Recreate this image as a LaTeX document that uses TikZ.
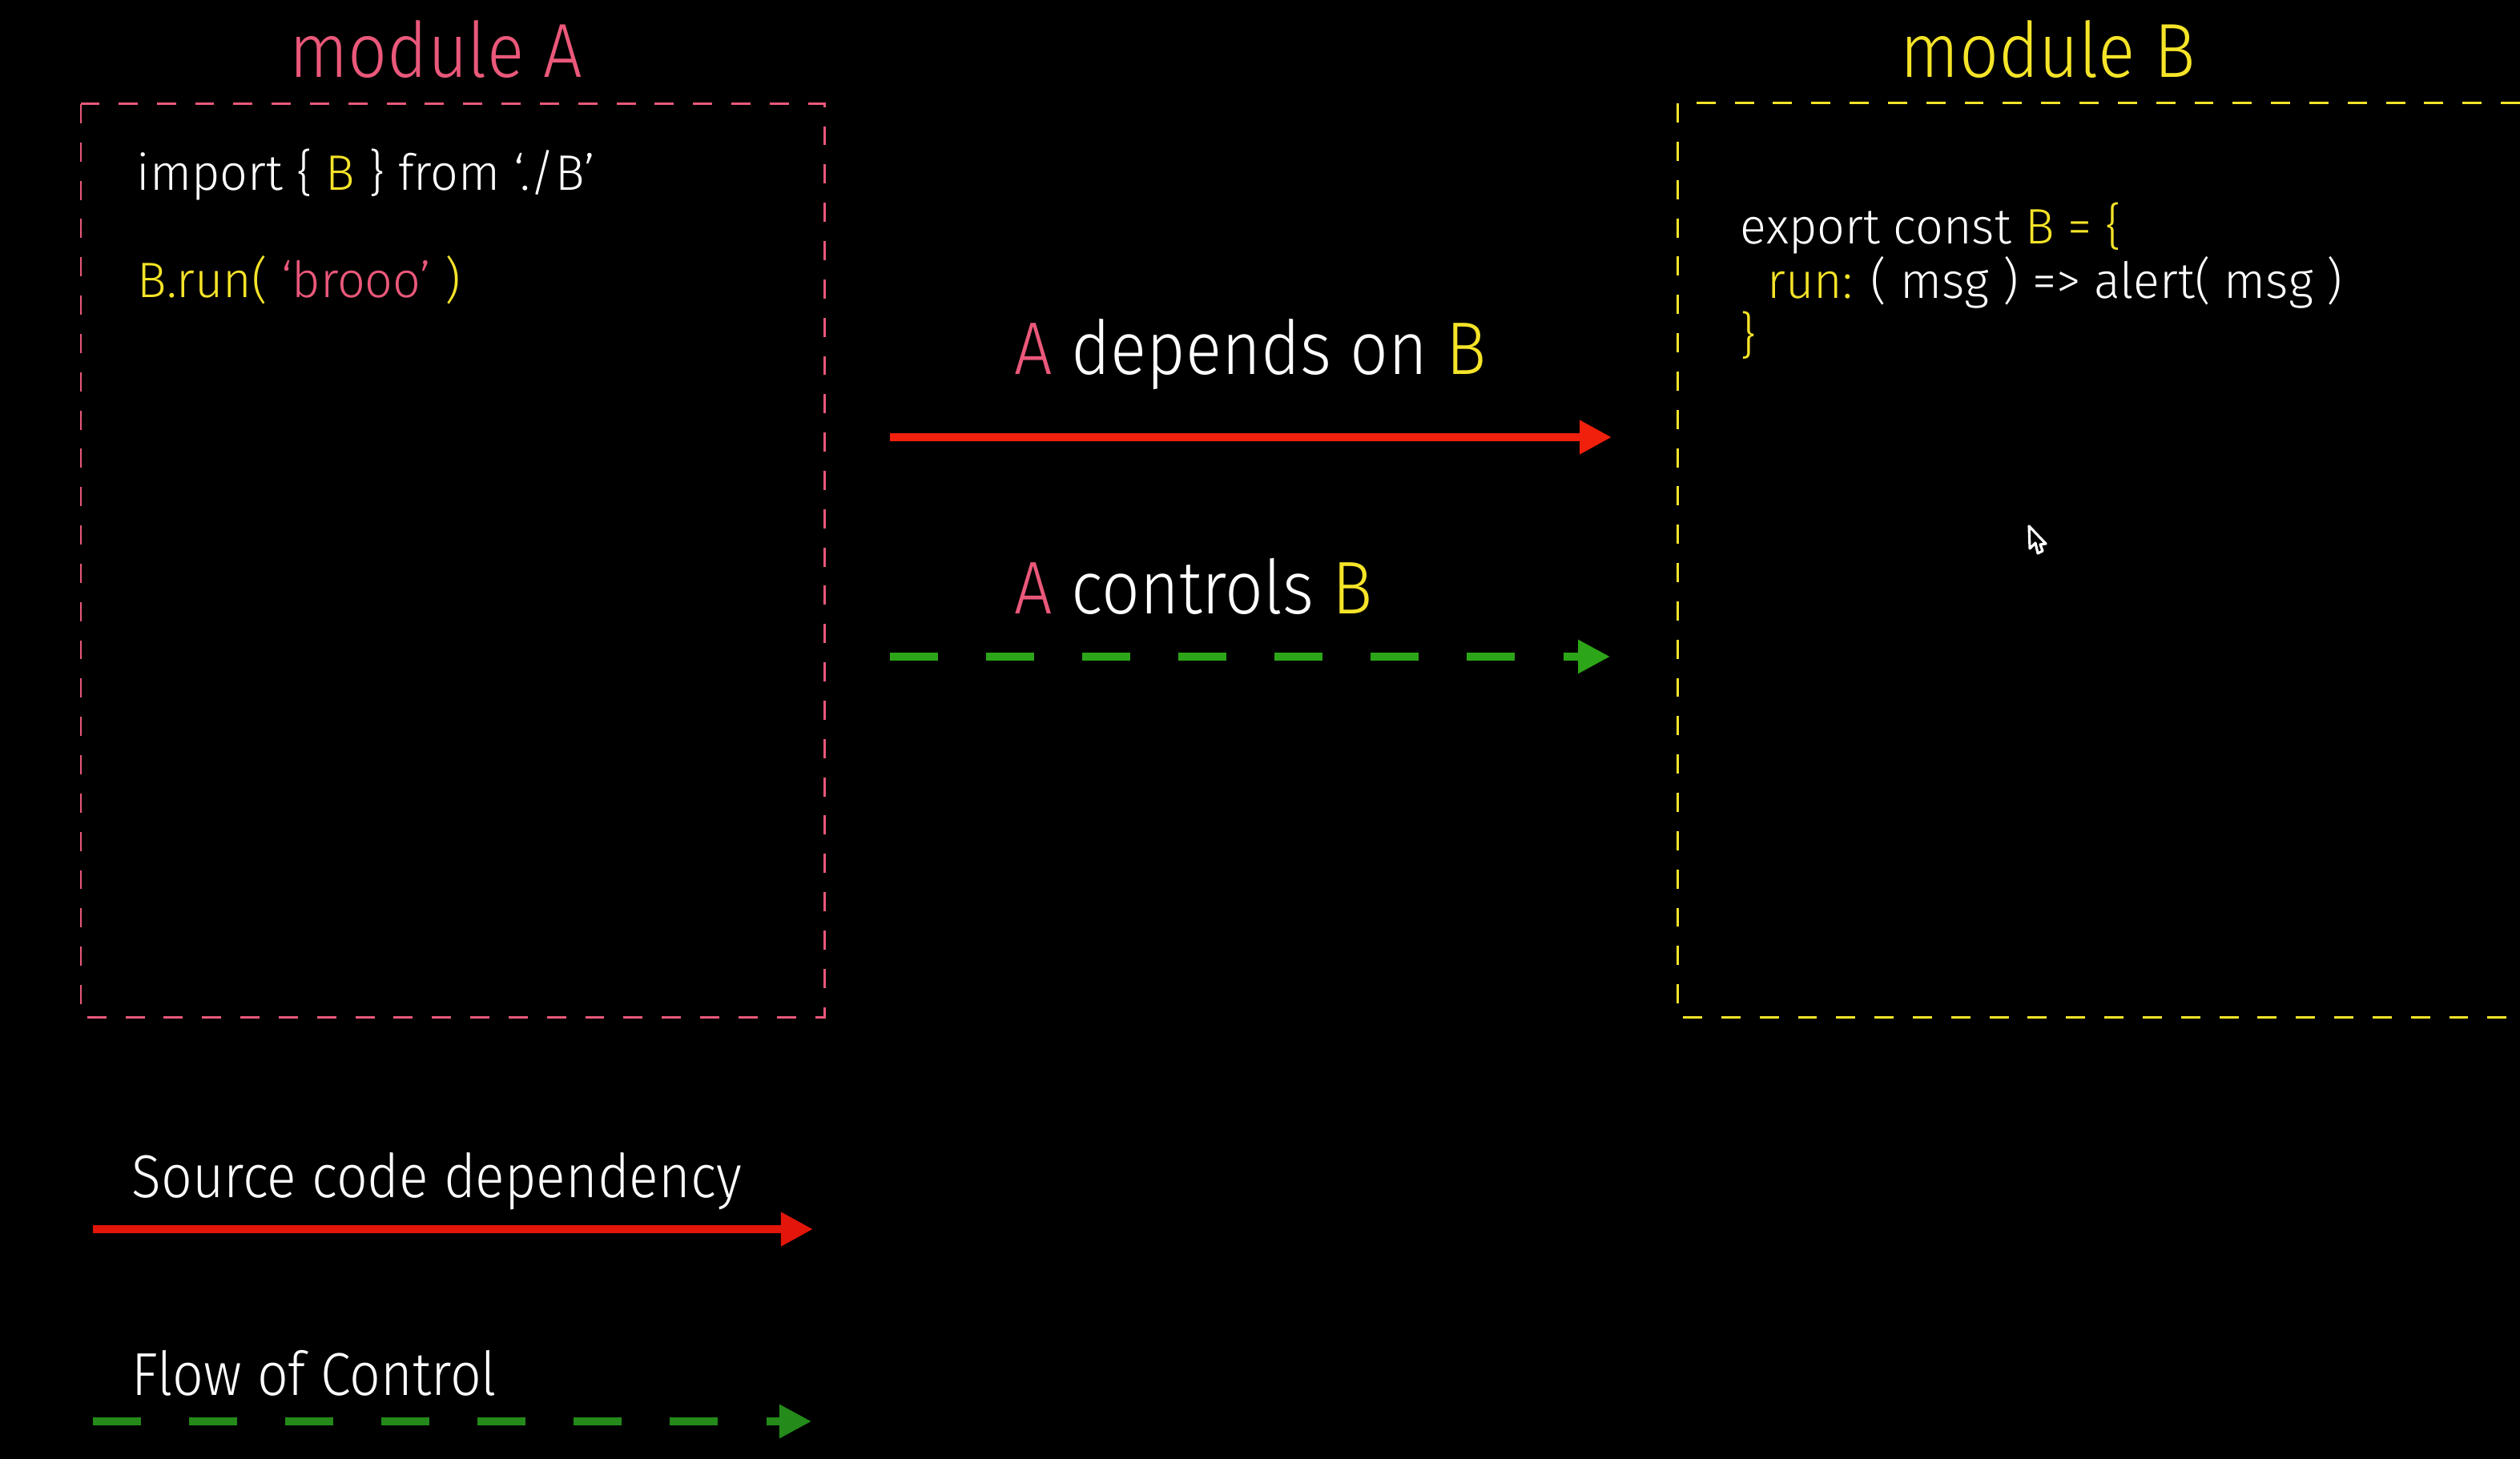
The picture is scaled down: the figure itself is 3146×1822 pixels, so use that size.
\documentclass[tikz,border=0pt]{standalone}
\usepackage{fontspec}
\setmainfont{Fira Sans Light}[FakeStretch=0.9]
\newfontfamily\codefont{Fira Sans Light}[FakeStretch=0.98]
\usetikzlibrary{arrows.meta}

\definecolor{pinkA}{RGB}{234,88,122}
\definecolor{yellowB}{RGB}{245,228,40}
\definecolor{depred}{RGB}{240,32,12}
\definecolor{legendred}{RGB}{226,22,10}
\definecolor{ctrlgreen}{RGB}{44,165,24}
\definecolor{legendgreen}{RGB}{36,138,26}

\newcommand{\pk}[1]{\textcolor{pinkA}{#1}}
\newcommand{\yl}[1]{\textcolor{yellowB}{#1}}

\tikzset{
  modtitle/.style={anchor=base, inner sep=0pt, font=\fontsize{27.2}{32}\selectfont},
  codeline/.style={anchor=base west, inner sep=0pt, text=white, font=\codefont\fontsize{17.7}{21}\selectfont},
  relation/.style={anchor=base west, inner sep=0pt, text=white, font=\fontsize{26.5}{31}\selectfont},
  legend/.style={anchor=base west, inner sep=0pt, text=white, font=\fontsize{21.5}{26}\selectfont},
  boxA/.style={draw=pinkA, line width=0.85pt, dash pattern=on 6.8pt off 6.8pt},
  boxB/.style={draw=yellowB, line width=0.85pt, dash pattern=on 6.8pt off 6.8pt},
  depflow/.style={draw=depred, line width=2.85pt, -{Triangle[length=0.4cm, width=0.4cm]}},
  ctrlflow/.style={draw=ctrlgreen, line width=2.6pt, dash pattern=on 0.6cm off 0.6cm, -{Triangle[length=0.4cm, width=0.4cm]}}
}

\begin{document}
\begin{tikzpicture}[x=0.01cm, y=-0.01cm]
  \useasboundingbox (0,0) rectangle (3146,1822);
  \fill[black] (0,0) rectangle (3146,1822);

  % the two modules
  \node[modtitle, text=pinkA] (titleA) at (544,97) {module A};
  \node[modtitle, text=yellowB] (titleB) at (2557,97) {module B};
  \draw[boxA] (101,130) rectangle (1029,1270);
  \draw[boxB] (3146,129) -- (2094,129) -- (2094,1270) -- (3146,1270);

  \node[codeline] (import) at (170,238) {import \{ \yl{B} \} from ‘./B’};
  \node[codeline, text=yellowB] (call) at (171,372) {B.run( \pk{‘brooo’} )};

  \node[codeline] (export) at (2172,305) {export const \yl{B = \{}};
  \node[codeline] (run) at (2206,373) {\yl{run:} ( msg ) => alert( msg )};
  \node[codeline, text=yellowB] (close) at (2172,441) {\}};

  % relations between A and B
  \node[relation] (dep) at (1266,468) {\pk{A} depends on \yl{B}};
  \coordinate (dep-s) at (1111,546);
  \coordinate (dep-e) at (2012,546);
  \draw[depflow] (dep-s) -- (dep-e);

  \node[relation] (ctrl) at (1266,766) {\pk{A} controls \yl{B}};
  \coordinate (ctrl-s) at (1111,820);
  \coordinate (ctrl-e) at (2010,820);
  \draw[ctrlflow] (ctrl-s) -- (ctrl-e);

  % legend
  \node[legend] (srcdep) at (164,1495) {Source code dependency};
  \coordinate (srcdep-s) at (116,1535);
  \coordinate (srcdep-e) at (1015,1535);
  \draw[depflow, draw=legendred] (srcdep-s) -- (srcdep-e);

  \node[legend] (flow) at (164,1742) {Flow of Control};
  \coordinate (flow-s) at (116,1775);
  \coordinate (flow-e) at (1013,1775);
  \draw[ctrlflow, draw=legendgreen] (flow-s) -- (flow-e);

  % mouse pointer
  \draw[white, line width=0.9pt, line join=round, fill=black]
    (2533,657) -- (2534,685) -- (2541,678) -- (2544,691) -- (2550,688) -- (2547,680) -- (2554,679) -- cycle;
\end{tikzpicture}
\end{document}
